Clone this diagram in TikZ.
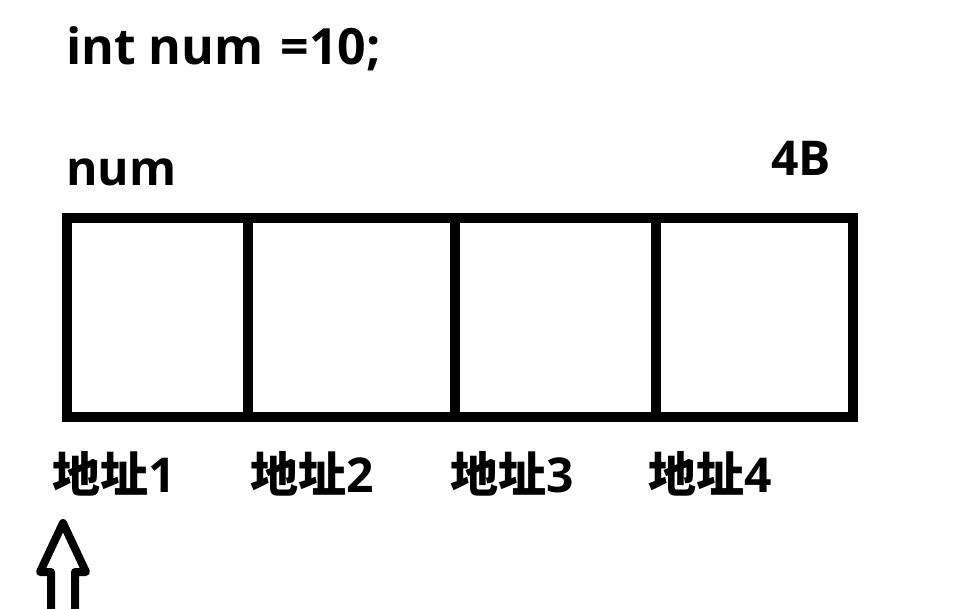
\documentclass[tikz,border=0pt]{standalone}
\usepackage{fontspec}
\setmainfont{Open Sans}
\newfontfamily\cjkfont{Noto Sans CJK SC}
\begin{document}
\begin{tikzpicture}[x=1pt,y=-1pt,
  cell/.style={draw=black,line width=10pt,minimum height=199pt,inner sep=0pt,outer sep=0pt},
  label/.style={anchor=base west,inner sep=0pt,font=\fontsize{48}{58}\selectfont\bfseries},
  addr/.style={anchor=base west,inner sep=0pt,font=\fontsize{48}{58}\selectfont\bfseries}]
\useasboundingbox[fill=white] (0,0) rectangle (958,608);
\clip (0,0) rectangle (958,608);
\node[label,font=\fontsize{50}{60}\selectfont\bfseries] (decl) at (66,64) {int num\hspace{4pt} =10;};
\node[label] (name) at (66,185) {num};
\node[label] (size) at (771,175) {4B};
\node[cell,minimum width=181pt] (c1) at (157.5,317.5) {};
\node[cell,minimum width=207pt] (c2) at (351.5,317.5) {};
\node[cell,minimum width=201pt] (c3) at (555.5,317.5) {};
\node[cell,minimum width=197pt] (c4) at (754.5,317.5) {};
\node[addr] (a1) at (52,492) {{\cjkfont 地址}1};
\node[addr] (a2) at (250,492) {{\cjkfont 地址}2};
\node[addr] (a3) at (450,492) {{\cjkfont 地址}3};
\node[addr] (a4) at (648,492) {{\cjkfont 地址}4};
\coordinate (tip) at (63,523);
\draw[line width=8pt,line join=round,line cap=round]
  (51,620) -- (51,572) -- (40,572) -- (tip) -- (86,572) -- (75,572) -- (75,620);
\end{tikzpicture}
\end{document}
